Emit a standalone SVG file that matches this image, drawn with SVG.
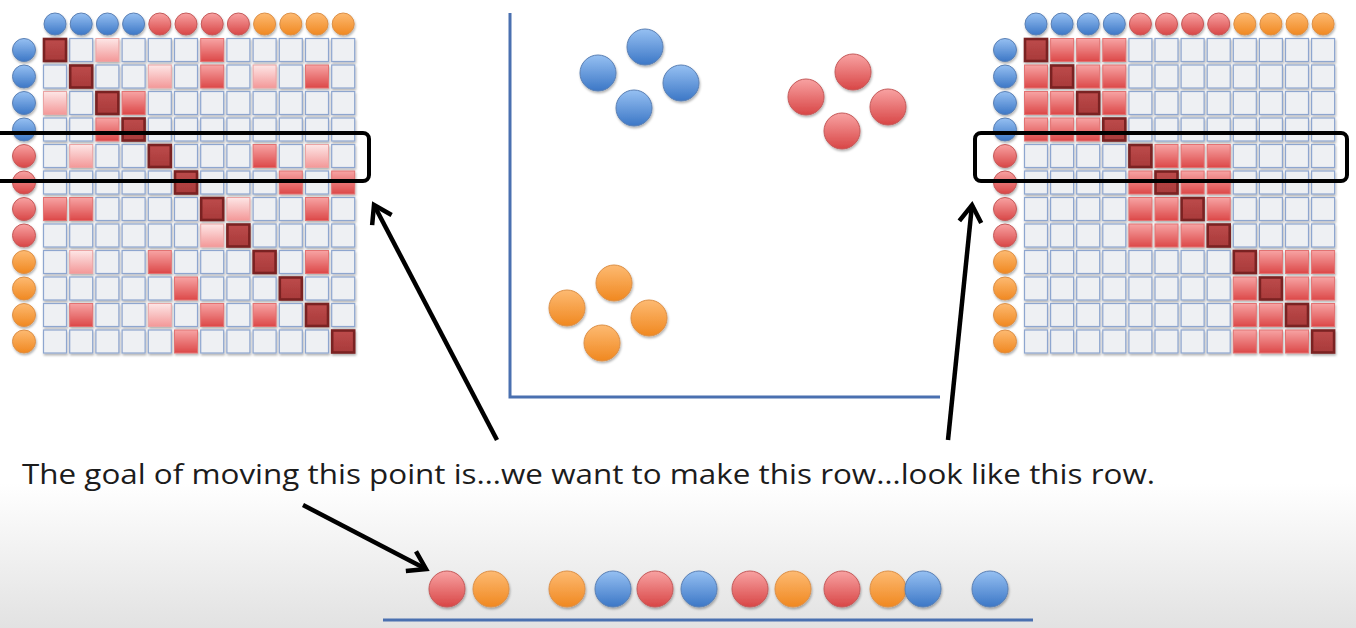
<svg xmlns="http://www.w3.org/2000/svg" xmlns:xlink="http://www.w3.org/1999/xlink" width="1356" height="628" viewBox="0 0 1356 628">
<defs>
  <linearGradient id="bg" x1="0" y1="0" x2="0" y2="628" gradientUnits="userSpaceOnUse">
    <stop offset="0.77" stop-color="#ffffff"/>
    <stop offset="1" stop-color="#e2e2e2"/>
  </linearGradient>
  <linearGradient id="gB" x1="0" y1="0" x2="0" y2="1"><stop offset="0" stop-color="#96c0f2"/><stop offset="1" stop-color="#3c77c6"/></linearGradient>
  <linearGradient id="gR" x1="0" y1="0" x2="0" y2="1"><stop offset="0" stop-color="#f8a2a2"/><stop offset="1" stop-color="#d84646"/></linearGradient>
  <linearGradient id="gO" x1="0" y1="0" x2="0" y2="1"><stop offset="0" stop-color="#fdba72"/><stop offset="1" stop-color="#f08820"/></linearGradient>
  <linearGradient id="gL" x1="0" y1="0" x2="0" y2="1"><stop offset="0" stop-color="#fde6e6"/><stop offset="1" stop-color="#f39898"/></linearGradient>
  <linearGradient id="gM" x1="0" y1="0" x2="0" y2="1"><stop offset="0" stop-color="#f7a4a4"/><stop offset="1" stop-color="#dc4848"/></linearGradient>
  <linearGradient id="gD" x1="0" y1="0" x2="0" y2="1"><stop offset="0" stop-color="#bd4b4b"/><stop offset="1" stop-color="#a83a3a"/></linearGradient>
  <filter id="sh" x="-30%" y="-30%" width="160%" height="160%">
    <feDropShadow dx="0.8" dy="1.8" stdDeviation="1.1" flood-color="#000" flood-opacity="0.3"/>
  </filter>
  <rect id="e" width="23" height="23" fill="#eef0f3" stroke="#8ea6cf" stroke-width="1.2" filter="url(#sh)"/>
  <rect id="l" width="23" height="23" fill="url(#gL)" stroke="#eaa4a4" stroke-width="1" filter="url(#sh)"/>
  <rect id="m" width="23" height="23" fill="url(#gM)" stroke="#e27272" stroke-width="1" filter="url(#sh)"/>
  <rect id="d" x="0.5" y="0.5" width="22" height="22" fill="url(#gD)" stroke="#7a2222" stroke-width="2.6" filter="url(#sh)"/>
  <marker id="chev" markerUnits="userSpaceOnUse" markerWidth="30" markerHeight="30" viewBox="0 0 30 30" refX="24" refY="15" orient="auto">
    <path d="M7,4 L24,15 L7,26" fill="none" stroke="#000" stroke-width="4.5" stroke-linejoin="miter"/>
  </marker>
  <style>
    .cb{fill:url(#gB);stroke:#5b80b4;stroke-width:1;filter:url(#sh)}
    .cr{fill:url(#gR);stroke:#c45a5a;stroke-width:1;filter:url(#sh)}
    .co{fill:url(#gO);stroke:#dc9048;stroke-width:1;filter:url(#sh)}
    .axis{stroke:#4a70b0;stroke-width:3;fill:none}
    .hl{fill:none;stroke:#000;stroke-width:4}
    .arr{stroke:#000;stroke-width:4.5;fill:none;marker-end:url(#chev)}
    .cap{font-family:"Open Sans","Liberation Sans",Arial,sans-serif;font-size:27px;fill:#1c1c1c}
  </style>
</defs>

<rect width="1356" height="628" fill="url(#bg)"/>

<!-- Left matrix -->
<g id="left-matrix">
  <g id="left-headers">
    <circle class="cb" cx="55" cy="24" r="11"/><circle class="cb" cx="81.2" cy="24" r="11"/><circle class="cb" cx="107.4" cy="24" r="11"/><circle class="cb" cx="133.6" cy="24" r="11"/>
    <circle class="cr" cx="159.8" cy="24" r="11"/><circle class="cr" cx="186" cy="24" r="11"/><circle class="cr" cx="212.2" cy="24" r="11"/><circle class="cr" cx="238.4" cy="24" r="11"/>
    <circle class="co" cx="264.6" cy="24" r="11"/><circle class="co" cx="290.8" cy="24" r="11"/><circle class="co" cx="317" cy="24" r="11"/><circle class="co" cx="343.2" cy="24" r="11"/>
  </g>
  <g id="left-rowlabels">
    <circle class="cb" cx="24" cy="50" r="11.5"/><circle class="cb" cx="24" cy="76.5" r="11.5"/><circle class="cb" cx="24" cy="103" r="11.5"/><circle class="cb" cx="24" cy="129.5" r="11.5"/>
    <circle class="cr" cx="24" cy="156" r="11.5"/><circle class="cr" cx="24" cy="182.5" r="11.5"/><circle class="cr" cx="24" cy="209" r="11.5"/><circle class="cr" cx="24" cy="235.5" r="11.5"/>
    <circle class="co" cx="24" cy="262" r="11.5"/><circle class="co" cx="24" cy="288.5" r="11.5"/><circle class="co" cx="24" cy="315" r="11.5"/><circle class="co" cx="24" cy="341.5" r="11.5"/>
  </g>
  <g id="left-cells" transform="translate(43.5,38.5)">
    <g transform="translate(0,0)"><use href="#d" x="0"/><use href="#e" x="26.2"/><use href="#l" x="52.4"/><use href="#e" x="78.6"/><use href="#e" x="104.8"/><use href="#e" x="131"/><use href="#m" x="157.2"/><use href="#e" x="183.4"/><use href="#e" x="209.6"/><use href="#e" x="235.8"/><use href="#e" x="262"/><use href="#e" x="288.2"/></g>
    <g transform="translate(0,26.5)"><use href="#e" x="0"/><use href="#d" x="26.2"/><use href="#e" x="52.4"/><use href="#e" x="78.6"/><use href="#l" x="104.8"/><use href="#e" x="131"/><use href="#m" x="157.2"/><use href="#e" x="183.4"/><use href="#l" x="209.6"/><use href="#e" x="235.8"/><use href="#m" x="262"/><use href="#e" x="288.2"/></g>
    <g transform="translate(0,53)"><use href="#l" x="0"/><use href="#e" x="26.2"/><use href="#d" x="52.4"/><use href="#m" x="78.6"/><use href="#e" x="104.8"/><use href="#e" x="131"/><use href="#e" x="157.2"/><use href="#e" x="183.4"/><use href="#e" x="209.6"/><use href="#e" x="235.8"/><use href="#e" x="262"/><use href="#e" x="288.2"/></g>
    <g transform="translate(0,79.5)"><use href="#e" x="0"/><use href="#e" x="26.2"/><use href="#m" x="52.4"/><use href="#d" x="78.6"/><use href="#e" x="104.8"/><use href="#e" x="131"/><use href="#e" x="157.2"/><use href="#e" x="183.4"/><use href="#e" x="209.6"/><use href="#e" x="235.8"/><use href="#e" x="262"/><use href="#e" x="288.2"/></g>
    <g transform="translate(0,106)"><use href="#e" x="0"/><use href="#l" x="26.2"/><use href="#e" x="52.4"/><use href="#e" x="78.6"/><use href="#d" x="104.8"/><use href="#e" x="131"/><use href="#e" x="157.2"/><use href="#e" x="183.4"/><use href="#m" x="209.6"/><use href="#e" x="235.8"/><use href="#l" x="262"/><use href="#e" x="288.2"/></g>
    <g transform="translate(0,132.5)"><use href="#e" x="0"/><use href="#e" x="26.2"/><use href="#e" x="52.4"/><use href="#e" x="78.6"/><use href="#e" x="104.8"/><use href="#d" x="131"/><use href="#e" x="157.2"/><use href="#e" x="183.4"/><use href="#e" x="209.6"/><use href="#m" x="235.8"/><use href="#e" x="262"/><use href="#m" x="288.2"/></g>
    <g transform="translate(0,159)"><use href="#m" x="0"/><use href="#m" x="26.2"/><use href="#e" x="52.4"/><use href="#e" x="78.6"/><use href="#e" x="104.8"/><use href="#e" x="131"/><use href="#d" x="157.2"/><use href="#l" x="183.4"/><use href="#e" x="209.6"/><use href="#e" x="235.8"/><use href="#m" x="262"/><use href="#e" x="288.2"/></g>
    <g transform="translate(0,185.5)"><use href="#e" x="0"/><use href="#e" x="26.2"/><use href="#e" x="52.4"/><use href="#e" x="78.6"/><use href="#e" x="104.8"/><use href="#e" x="131"/><use href="#l" x="157.2"/><use href="#d" x="183.4"/><use href="#e" x="209.6"/><use href="#e" x="235.8"/><use href="#e" x="262"/><use href="#e" x="288.2"/></g>
    <g transform="translate(0,212)"><use href="#e" x="0"/><use href="#l" x="26.2"/><use href="#e" x="52.4"/><use href="#e" x="78.6"/><use href="#m" x="104.8"/><use href="#e" x="131"/><use href="#e" x="157.2"/><use href="#e" x="183.4"/><use href="#d" x="209.6"/><use href="#e" x="235.8"/><use href="#m" x="262"/><use href="#e" x="288.2"/></g>
    <g transform="translate(0,238.5)"><use href="#e" x="0"/><use href="#e" x="26.2"/><use href="#e" x="52.4"/><use href="#e" x="78.6"/><use href="#e" x="104.8"/><use href="#m" x="131"/><use href="#e" x="157.2"/><use href="#e" x="183.4"/><use href="#e" x="209.6"/><use href="#d" x="235.8"/><use href="#e" x="262"/><use href="#e" x="288.2"/></g>
    <g transform="translate(0,265)"><use href="#e" x="0"/><use href="#m" x="26.2"/><use href="#e" x="52.4"/><use href="#e" x="78.6"/><use href="#l" x="104.8"/><use href="#e" x="131"/><use href="#m" x="157.2"/><use href="#e" x="183.4"/><use href="#m" x="209.6"/><use href="#e" x="235.8"/><use href="#d" x="262"/><use href="#e" x="288.2"/></g>
    <g transform="translate(0,291.5)"><use href="#e" x="0"/><use href="#e" x="26.2"/><use href="#e" x="52.4"/><use href="#e" x="78.6"/><use href="#e" x="104.8"/><use href="#m" x="131"/><use href="#e" x="157.2"/><use href="#e" x="183.4"/><use href="#e" x="209.6"/><use href="#e" x="235.8"/><use href="#e" x="262"/><use href="#d" x="288.2"/></g>
  </g>
  <rect id="left-highlight" class="hl" x="-8" y="133" width="377" height="48" rx="6"/>
</g>

<!-- Right matrix -->
<g id="right-matrix">
  <g id="right-headers">
    <circle class="cb" cx="1036" cy="24" r="11"/><circle class="cb" cx="1062.1" cy="24" r="11"/><circle class="cb" cx="1088.2" cy="24" r="11"/><circle class="cb" cx="1114.3" cy="24" r="11"/>
    <circle class="cr" cx="1140.4" cy="24" r="11"/><circle class="cr" cx="1166.5" cy="24" r="11"/><circle class="cr" cx="1192.6" cy="24" r="11"/><circle class="cr" cx="1218.7" cy="24" r="11"/>
    <circle class="co" cx="1244.8" cy="24" r="11"/><circle class="co" cx="1270.9" cy="24" r="11"/><circle class="co" cx="1297" cy="24" r="11"/><circle class="co" cx="1323.1" cy="24" r="11"/>
  </g>
  <g id="right-rowlabels">
    <circle class="cb" cx="1005" cy="50" r="11.5"/><circle class="cb" cx="1005" cy="76.5" r="11.5"/><circle class="cb" cx="1005" cy="103" r="11.5"/><circle class="cb" cx="1005" cy="129.5" r="11.5"/>
    <circle class="cr" cx="1005" cy="156" r="11.5"/><circle class="cr" cx="1005" cy="182.5" r="11.5"/><circle class="cr" cx="1005" cy="209" r="11.5"/><circle class="cr" cx="1005" cy="235.5" r="11.5"/>
    <circle class="co" cx="1005" cy="262" r="11.5"/><circle class="co" cx="1005" cy="288.5" r="11.5"/><circle class="co" cx="1005" cy="315" r="11.5"/><circle class="co" cx="1005" cy="341.5" r="11.5"/>
  </g>
  <g id="right-cells" transform="translate(1024.5,38.5)">
    <g transform="translate(0,0)"><use href="#d" x="0"/><use href="#m" x="26.1"/><use href="#m" x="52.2"/><use href="#m" x="78.3"/><use href="#e" x="104.4"/><use href="#e" x="130.5"/><use href="#e" x="156.6"/><use href="#e" x="182.7"/><use href="#e" x="208.8"/><use href="#e" x="234.9"/><use href="#e" x="261"/><use href="#e" x="287.1"/></g>
    <g transform="translate(0,26.5)"><use href="#m" x="0"/><use href="#d" x="26.1"/><use href="#m" x="52.2"/><use href="#m" x="78.3"/><use href="#e" x="104.4"/><use href="#e" x="130.5"/><use href="#e" x="156.6"/><use href="#e" x="182.7"/><use href="#e" x="208.8"/><use href="#e" x="234.9"/><use href="#e" x="261"/><use href="#e" x="287.1"/></g>
    <g transform="translate(0,53)"><use href="#m" x="0"/><use href="#m" x="26.1"/><use href="#d" x="52.2"/><use href="#m" x="78.3"/><use href="#e" x="104.4"/><use href="#e" x="130.5"/><use href="#e" x="156.6"/><use href="#e" x="182.7"/><use href="#e" x="208.8"/><use href="#e" x="234.9"/><use href="#e" x="261"/><use href="#e" x="287.1"/></g>
    <g transform="translate(0,79.5)"><use href="#m" x="0"/><use href="#m" x="26.1"/><use href="#m" x="52.2"/><use href="#d" x="78.3"/><use href="#e" x="104.4"/><use href="#e" x="130.5"/><use href="#e" x="156.6"/><use href="#e" x="182.7"/><use href="#e" x="208.8"/><use href="#e" x="234.9"/><use href="#e" x="261"/><use href="#e" x="287.1"/></g>
    <g transform="translate(0,106)"><use href="#e" x="0"/><use href="#e" x="26.1"/><use href="#e" x="52.2"/><use href="#e" x="78.3"/><use href="#d" x="104.4"/><use href="#m" x="130.5"/><use href="#m" x="156.6"/><use href="#m" x="182.7"/><use href="#e" x="208.8"/><use href="#e" x="234.9"/><use href="#e" x="261"/><use href="#e" x="287.1"/></g>
    <g transform="translate(0,132.5)"><use href="#e" x="0"/><use href="#e" x="26.1"/><use href="#e" x="52.2"/><use href="#e" x="78.3"/><use href="#m" x="104.4"/><use href="#d" x="130.5"/><use href="#m" x="156.6"/><use href="#m" x="182.7"/><use href="#e" x="208.8"/><use href="#e" x="234.9"/><use href="#e" x="261"/><use href="#e" x="287.1"/></g>
    <g transform="translate(0,159)"><use href="#e" x="0"/><use href="#e" x="26.1"/><use href="#e" x="52.2"/><use href="#e" x="78.3"/><use href="#m" x="104.4"/><use href="#m" x="130.5"/><use href="#d" x="156.6"/><use href="#m" x="182.7"/><use href="#e" x="208.8"/><use href="#e" x="234.9"/><use href="#e" x="261"/><use href="#e" x="287.1"/></g>
    <g transform="translate(0,185.5)"><use href="#e" x="0"/><use href="#e" x="26.1"/><use href="#e" x="52.2"/><use href="#e" x="78.3"/><use href="#m" x="104.4"/><use href="#m" x="130.5"/><use href="#m" x="156.6"/><use href="#d" x="182.7"/><use href="#e" x="208.8"/><use href="#e" x="234.9"/><use href="#e" x="261"/><use href="#e" x="287.1"/></g>
    <g transform="translate(0,212)"><use href="#e" x="0"/><use href="#e" x="26.1"/><use href="#e" x="52.2"/><use href="#e" x="78.3"/><use href="#e" x="104.4"/><use href="#e" x="130.5"/><use href="#e" x="156.6"/><use href="#e" x="182.7"/><use href="#d" x="208.8"/><use href="#m" x="234.9"/><use href="#m" x="261"/><use href="#m" x="287.1"/></g>
    <g transform="translate(0,238.5)"><use href="#e" x="0"/><use href="#e" x="26.1"/><use href="#e" x="52.2"/><use href="#e" x="78.3"/><use href="#e" x="104.4"/><use href="#e" x="130.5"/><use href="#e" x="156.6"/><use href="#e" x="182.7"/><use href="#m" x="208.8"/><use href="#d" x="234.9"/><use href="#m" x="261"/><use href="#m" x="287.1"/></g>
    <g transform="translate(0,265)"><use href="#e" x="0"/><use href="#e" x="26.1"/><use href="#e" x="52.2"/><use href="#e" x="78.3"/><use href="#e" x="104.4"/><use href="#e" x="130.5"/><use href="#e" x="156.6"/><use href="#e" x="182.7"/><use href="#m" x="208.8"/><use href="#m" x="234.9"/><use href="#d" x="261"/><use href="#m" x="287.1"/></g>
    <g transform="translate(0,291.5)"><use href="#e" x="0"/><use href="#e" x="26.1"/><use href="#e" x="52.2"/><use href="#e" x="78.3"/><use href="#e" x="104.4"/><use href="#e" x="130.5"/><use href="#e" x="156.6"/><use href="#e" x="182.7"/><use href="#m" x="208.8"/><use href="#m" x="234.9"/><use href="#m" x="261"/><use href="#d" x="287.1"/></g>
  </g>
  <rect id="right-highlight" class="hl" x="975" y="133" width="372" height="48" rx="6"/>
</g>

<!-- Scatter plot -->
<g id="scatter-axes">
  <path class="axis" d="M510,13 L510,397 L940,397"/>
</g>
<g id="cluster-blue">
  <circle class="cb" cx="645" cy="47" r="18"/><circle class="cb" cx="598" cy="73" r="18"/><circle class="cb" cx="681" cy="83" r="18"/><circle class="cb" cx="634" cy="108" r="18"/>
</g>
<g id="cluster-red">
  <circle class="cr" cx="853" cy="72" r="18"/><circle class="cr" cx="806" cy="97" r="18"/><circle class="cr" cx="888" cy="107" r="18"/><circle class="cr" cx="842" cy="131" r="18"/>
</g>
<g id="cluster-orange">
  <circle class="co" cx="614" cy="283" r="18"/><circle class="co" cx="567" cy="308" r="18"/><circle class="co" cx="649" cy="318" r="18"/><circle class="co" cx="602" cy="343" r="18"/>
</g>

<!-- 1-D embedding -->
<g id="embedding-line">
  <line class="axis" x1="383" y1="620" x2="1033" y2="620" stroke-width="3.5"/>
</g>
<g id="embedding-points">
  <circle class="cr" cx="447" cy="589" r="18"/>
  <circle class="co" cx="491" cy="589" r="18"/>
  <circle class="co" cx="567" cy="589" r="18"/>
  <circle class="cb" cx="613" cy="589" r="18"/>
  <circle class="cr" cx="655" cy="589" r="18"/>
  <circle class="cb" cx="699" cy="589" r="18"/>
  <circle class="cr" cx="750" cy="589" r="18"/>
  <circle class="co" cx="793" cy="589" r="18"/>
  <circle class="cr" cx="842" cy="589" r="18"/>
  <circle class="co" cx="888" cy="589" r="18"/>
  <circle class="cb" cx="923" cy="589" r="18"/>
  <circle class="cb" cx="990" cy="589" r="18"/>
</g>

<!-- Connectors -->
<g id="connectors">
  <line class="arr" x1="497" y1="440" x2="374" y2="205"/>
  <line class="arr" x1="948" y1="440" x2="972" y2="205"/>
  <line class="arr" x1="303" y1="505" x2="426" y2="569"/>
</g>

<g id="caption">
  <text class="cap" x="22" y="484" textLength="1133" lengthAdjust="spacingAndGlyphs">The goal of moving this point is…we want to make this row…look like this row.</text>
</g>
</svg>
